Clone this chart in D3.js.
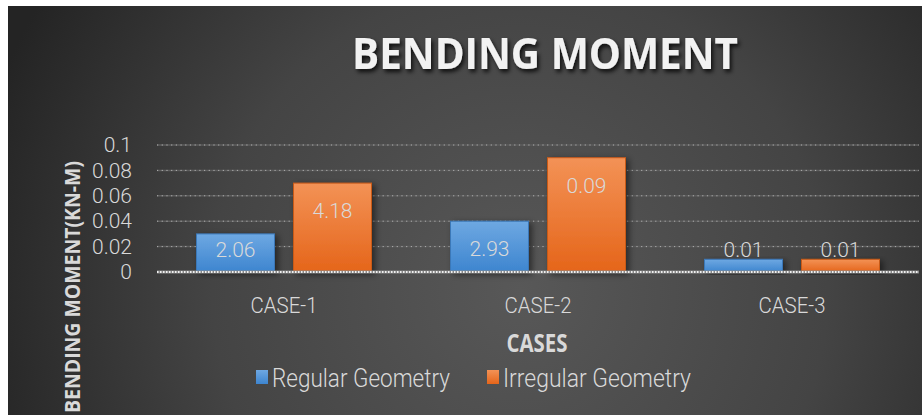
<!DOCTYPE html>
<html>
<head>
<meta charset="utf-8">
<script src="https://cdn.jsdelivr.net/npm/d3@7"></script>
<style>
  html, body { margin: 0; padding: 0; background: #fff; }
  svg { display: block; }
</style>
</head>
<body>
<script>
"use strict";

// chart data
let cases = ["CASE-1", "CASE-2", "CASE-3"];
let seriesNames = ["Regular Geometry", "Irregular Geometry"];
let regularValues = [0.03, 0.04, 0.01];
let irregularValues = [0.07, 0.09, 0.01];
let regularLabels = ["2.06", "2.93", "0.01"];
let irregularLabels = ["4.18", "0.09", "0.01"];
let yTicks = [0, 0.02, 0.04, 0.06, 0.08, 0.1];

let W = 922, H = 415;
let margin = {top: 145, right: 3, bottom: 143, left: 157};

let svg = d3.select("body").append("svg")
    .attr("width", W)
    .attr("height", H);

let defs = svg.append("defs");

let bg = defs.append("radialGradient")
    .attr("id", "bg")
    .attr("gradientUnits", "userSpaceOnUse")
    .attr("cx", 520).attr("cy", 290).attr("r", 560);
bg.append("stop").attr("offset", "0").attr("stop-color", "#585858");
bg.append("stop").attr("offset", "0.55").attr("stop-color", "#444444");
bg.append("stop").attr("offset", "1").attr("stop-color", "#242424");

function barGrad(id, top, bottom) {
    let g = defs.append("linearGradient")
        .attr("id", id)
        .attr("x1", 0).attr("y1", 0).attr("x2", 0).attr("y2", 1);
    g.append("stop").attr("offset", "0").attr("stop-color", top);
    g.append("stop").attr("offset", "1").attr("stop-color", bottom);
}
barGrad("gBlue", "#6ea8e2", "#3d85cf");
barGrad("gOrange", "#f39256", "#e5651a");

let shadow = defs.append("filter").attr("id", "shadow")
    .attr("x", "-20%").attr("y", "-20%").attr("width", "140%").attr("height", "160%");
shadow.append("feDropShadow")
    .attr("dx", 2).attr("dy", 3).attr("stdDeviation", 2)
    .attr("flood-color", "#000").attr("flood-opacity", 0.8);

let barShadow = defs.append("filter").attr("id", "barShadow")
    .attr("x", "-20%").attr("y", "-20%").attr("width", "150%").attr("height", "140%");
barShadow.append("feDropShadow")
    .attr("dx", 3).attr("dy", 2).attr("stdDeviation", 3)
    .attr("flood-color", "#000").attr("flood-opacity", 0.5);

// background with the white strips on top and left
svg.append("rect").attr("width", W).attr("height", H).attr("fill", "#fff");
svg.append("rect").attr("x", 8).attr("y", 6)
    .attr("width", W - 8).attr("height", H - 6)
    .attr("fill", "url(#bg)");

// scales
let x0 = d3.scaleBand()
    .domain(cases)
    .range([margin.left, W - margin.right]);

let x1 = d3.scaleBand()
    .domain(seriesNames)
    .range([39.5, x0.bandwidth() - 39.5])
    .paddingInner(0.196);

let y = d3.scaleLinear()
    .domain([0, 0.1])
    .range([H - margin.bottom, margin.top]);

// gridlines
let grid = svg.append("g");
grid.selectAll("line.solid")
    .data(yTicks.slice(1))
    .enter().append("line")
    .attr("class", "solid")
    .attr("x1", margin.left).attr("x2", W - margin.right)
    .attr("y1", d => y(d)).attr("y2", d => y(d))
    .attr("stroke", "#5c5c5c")
    .attr("stroke-width", 1.5);
grid.selectAll("line.dot")
    .data(yTicks.slice(1))
    .enter().append("line")
    .attr("class", "dot")
    .attr("x1", margin.left).attr("x2", W - margin.right)
    .attr("y1", d => y(d)).attr("y2", d => y(d))
    .attr("stroke", "#b0b0b0")
    .attr("stroke-width", 1)
    .attr("stroke-dasharray", "1.2,3.5");

// y axis labels
let yAxis = svg.append("g")
    .attr("transform", "translate(" + (margin.left - 25) + ",0)")
    .call(d3.axisLeft(y).tickValues(yTicks).tickSize(0).tickPadding(0)
        .tickFormat(d => d === 0 ? "0" : String(+d.toFixed(2))));
yAxis.select(".domain").remove();
yAxis.selectAll("text")
    .attr("fill", "#d9d9d9")
    .style("font-family", "Roboto, sans-serif")
    .style("font-size", "21px")
    .style("font-weight", 300);

// bars
let rows = cases.map((c, i) => ({
    name: c,
    values: [
        {series: seriesNames[0], value: regularValues[i], label: regularLabels[i]},
        {series: seriesNames[1], value: irregularValues[i], label: irregularLabels[i]}
    ]
}));

let groups = svg.selectAll("g.case")
    .data(rows)
    .enter().append("g")
    .attr("class", "case")
    .attr("transform", d => "translate(" + x0(d.name) + ",0)");

groups.selectAll("rect")
    .data(d => d.values)
    .enter().append("rect")
    .attr("x", d => x1(d.series))
    .attr("y", d => y(d.value))
    .attr("width", x1.bandwidth())
    .attr("height", d => y(0) - y(d.value))
    .attr("fill", d => d.series === seriesNames[0] ? "url(#gBlue)" : "url(#gOrange)")
    .attr("stroke", d => d.series === seriesNames[0] ? "#3b78b8" : "#c95a18")
    .attr("stroke-width", 1)
    .attr("filter", "url(#barShadow)");

// labels sit near the bar top, but never lower than just above the base
groups.selectAll("text.val")
    .data(d => d.values)
    .enter().append("text")
    .attr("class", "val")
    .attr("x", d => x1(d.series) + x1.bandwidth() / 2)
    .attr("y", d => Math.min(y(d.value) + 35, y(0) - 15))
    .attr("text-anchor", "middle")
    .attr("fill", "#d9d9d9")
    .style("font-family", "Roboto, sans-serif")
    .style("font-size", "21px")
    .style("font-weight", 300)
    .text(d => d.label);

// base line
svg.append("line")
    .attr("x1", margin.left).attr("x2", W - margin.right)
    .attr("y1", y(0)).attr("y2", y(0))
    .attr("stroke", "#8a8a8a").attr("stroke-width", 3);
svg.append("line")
    .attr("x1", margin.left).attr("x2", W - margin.right)
    .attr("y1", y(0)).attr("y2", y(0))
    .attr("stroke", "#f0f0f0").attr("stroke-width", 2)
    .attr("stroke-dasharray", "1.5,1.5");

// category labels
svg.append("g").selectAll("text")
    .data(cases)
    .enter().append("text")
    .attr("x", d => x0(d) + x0.bandwidth() / 2)
    .attr("y", 313)
    .attr("text-anchor", "middle")
    .attr("fill", "#d9d9d9")
    .attr("textLength", 67)
    .attr("lengthAdjust", "spacingAndGlyphs")
    .style("font-family", "Roboto, sans-serif")
    .style("font-size", "22px")
    .style("font-weight", 300)
    .text(d => d);

// titles
svg.append("text")
    .attr("x", 545).attr("y", 69)
    .attr("text-anchor", "middle")
    .attr("fill", "#f2f2f2")
    .attr("filter", "url(#shadow)")
    .attr("textLength", 386)
    .attr("lengthAdjust", "spacingAndGlyphs")
    .style("font-family", "'Open Sans', sans-serif")
    .style("font-weight", "bold")
    .style("font-size", "43px")
    .text("BENDING MOMENT");

svg.append("text")
    .attr("x", 537).attr("y", 352)
    .attr("text-anchor", "middle")
    .attr("fill", "#d9d9d9")
    .attr("textLength", 61)
    .attr("lengthAdjust", "spacingAndGlyphs")
    .style("font-family", "'Open Sans', sans-serif")
    .style("font-weight", "bold")
    .style("font-size", "25px")
    .text("CASES");

svg.append("text")
    .attr("transform", "translate(80,287) rotate(-90)")
    .attr("text-anchor", "middle")
    .attr("fill", "#d9d9d9")
    .attr("textLength", 252)
    .attr("lengthAdjust", "spacingAndGlyphs")
    .style("font-family", "'Open Sans', sans-serif")
    .style("font-weight", "bold")
    .style("font-size", "22px")
    .text("BENDING MOMENT(KN-M)");

// legend
let legend = svg.append("g");
let legendX = [256, 487];
let legendItems = legend.selectAll("g")
    .data(seriesNames)
    .enter().append("g")
    .attr("transform", (d, i) => "translate(" + legendX[i] + ",370)");
legendItems.append("rect")
    .attr("width", 12).attr("height", 14)
    .attr("fill", (d, i) => i === 0 ? "url(#gBlue)" : "url(#gOrange)");
legendItems.append("text")
    .attr("x", 16).attr("y", 17)
    .attr("fill", "#d9d9d9")
    .attr("textLength", (d, i) => i === 0 ? 178 : 188)
    .attr("lengthAdjust", "spacingAndGlyphs")
    .style("font-family", "Roboto, sans-serif")
    .style("font-size", "25px")
    .style("font-weight", 300)
    .text(d => d);
</script>
</body>
</html>
